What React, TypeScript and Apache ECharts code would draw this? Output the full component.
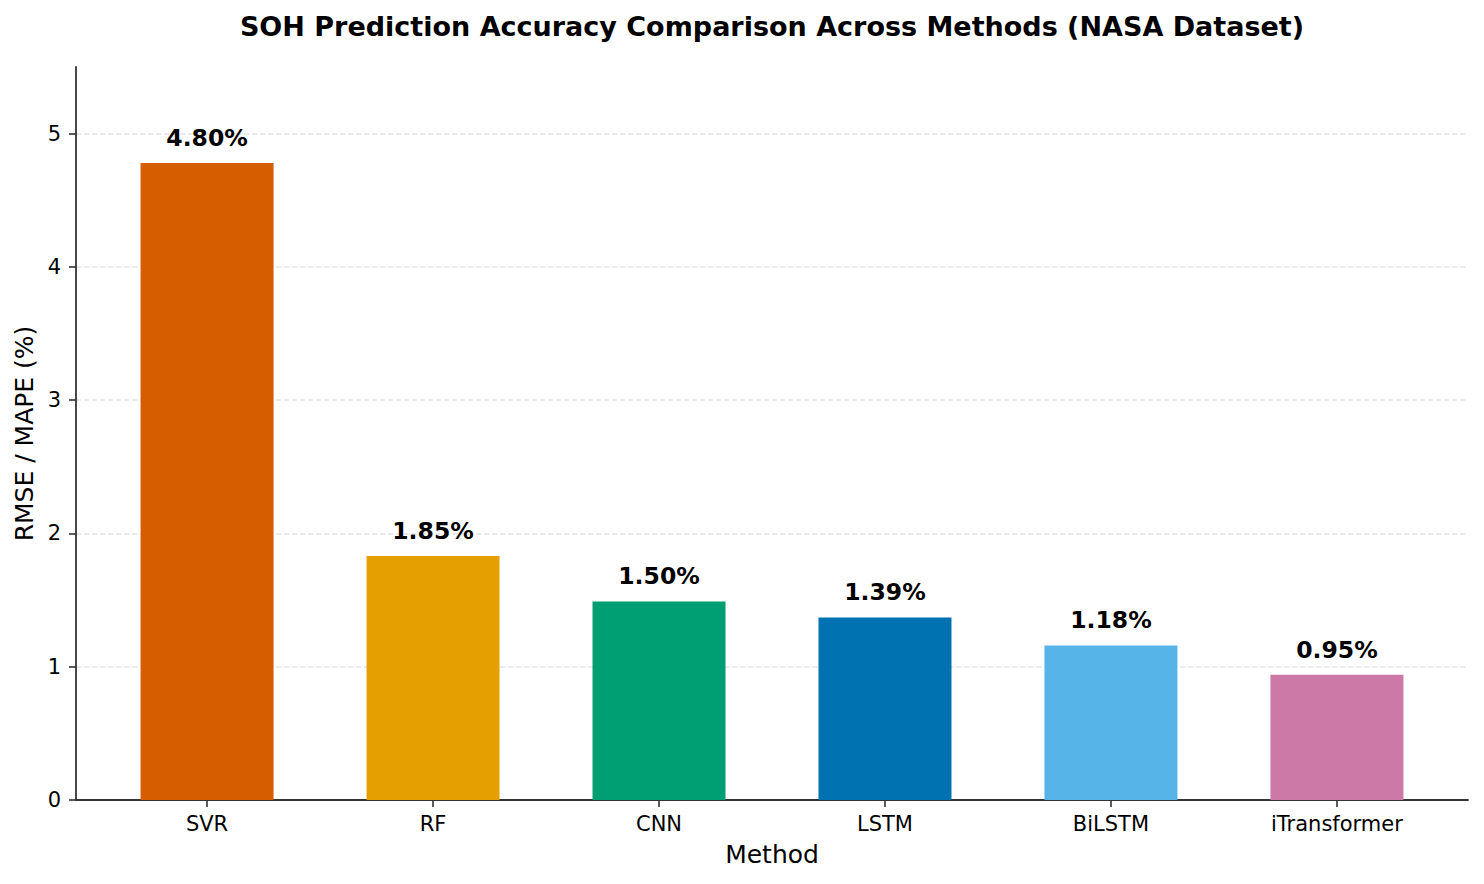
import React, { useEffect, useRef } from "react";
import * as echarts from "echarts";

const methods = ["SVR", "RF", "CNN", "LSTM", "BiLSTM", "iTransformer"];
const errorValues = [4.78, 1.83, 1.49, 1.37, 1.16, 0.94];
const valueLabels = ["4.80%", "1.85%", "1.50%", "1.39%", "1.18%", "0.95%"];
const barColors = ["#D55E00", "#E69F00", "#009E73", "#0072B2", "#56B4E9", "#CC79A7"];
const yTicks = [0, 1, 2, 3, 4, 5];

const FONT = "DejaVu Sans";

export default function App() {
  const chartRef = useRef<HTMLDivElement>(null);

  useEffect(() => {
    const chart = echarts.init(chartRef.current!, null, { renderer: "svg" });
    const xIdx = methods.map((_, i) => i);

    chart.setOption({
      animation: false,
      backgroundColor: "#ffffff",
      title: {
        text: "SOH Prediction Accuracy Comparison Across Methods (NASA Dataset)",
        left: 767,
        textAlign: "center",
        top: 8,
        textStyle: {
          fontFamily: FONT,
          fontSize: 27,
          fontWeight: "bold",
          color: "#000",
        },
      },
      grid: {
        left: 76,
        right: 16,
        top: 67,
        bottom: 84,
      },
      xAxis: {
        type: "value",
        min: -0.58,
        max: 5.58,
        name: "Method",
        nameLocation: "middle",
        nameGap: 42,
        nameTextStyle: { fontFamily: FONT, fontSize: 25, color: "#000" },
        axisLine: { show: true, onZero: false, lineStyle: { color: "#333", width: 1.8 } },
        axisTick: {
          show: true,
          length: 7,
          customValues: xIdx,
          lineStyle: { color: "#333", width: 1.6 },
        },
        axisLabel: {
          customValues: xIdx,
          margin: 13,
          fontFamily: FONT,
          fontSize: 21,
          color: "#000",
          formatter: (v: number) => methods[Math.round(v)] ?? "",
        },
        splitLine: { show: false },
      },
      yAxis: {
        type: "value",
        min: 0,
        max: 5.5,
        interval: 1,
        name: "RMSE / MAPE (%)",
        nameLocation: "middle",
        nameGap: 36,
        nameTextStyle: { fontFamily: FONT, fontSize: 25, color: "#000" },
        axisLine: { show: true, onZero: false, lineStyle: { color: "#333", width: 1.8 } },
        axisTick: {
          show: true,
          length: 7,
          customValues: yTicks,
          lineStyle: { color: "#333", width: 1.6 },
        },
        axisLabel: {
          customValues: yTicks,
          margin: 15,
          fontFamily: FONT,
          fontSize: 21,
          color: "#000",
        },
        splitLine: {
          show: true,
          lineStyle: { color: "#e4e4e4", width: 1.6, type: [5.5, 2.5] },
        },
      },
      series: [
        {
          type: "bar",
          barWidth: 133,
          data: methods.map((_, i) => ({
            value: [i, errorValues[i]],
            itemStyle: { color: barColors[i] },
          })),
          label: {
            show: true,
            position: "top",
            distance: 13,
            fontFamily: FONT,
            fontSize: 23.5,
            fontWeight: "bold",
            color: "#000",
            formatter: (p: any) => valueLabels[p.dataIndex],
          },
        },
      ],
    });

    return () => {
      chart.dispose();
    };
  }, []);

  return (
    <div style={{ position: "fixed", left: 0, top: 0, width: 1484, height: 884, background: "#fff" }}>
      <div ref={chartRef} style={{ width: "1484px", height: "884px" }} />
    </div>
  );
}
